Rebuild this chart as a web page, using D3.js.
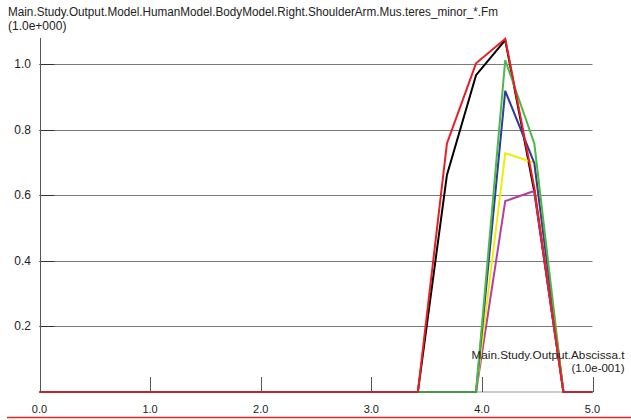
<!DOCTYPE html>
<html>
<head>
<meta charset="utf-8">
<script src="https://cdn.jsdelivr.net/npm/d3@7"></script>
<style>
  html, body { margin: 0; padding: 0; background: #fff; }
  svg { display: block; }
  text { font-family: "Liberation Sans Narrow", "Arial Narrow", "Liberation Sans", Arial, sans-serif; fill: #222; }
</style>
</head>
<body>
<svg id="chart" width="631" height="420"></svg>
<script>
// Sample times (units of 1.0e-001)
const time = [0.000, 0.263, 0.526, 0.789, 1.053, 1.316, 1.579, 1.842, 2.105, 2.368,
              2.632, 2.895, 3.158, 3.421, 3.684, 3.947, 4.211, 4.474, 4.737, 5.000];

// Muscle force per teres minor element (units of 1.0e+000)
const fmBlack   = [0,0,0,0,0,0,0,0,0,0,0,0,0,0, 0.662, 0.966, 1.073, 0.610, 0, 0];
const fmMagenta = [0,0,0,0,0,0,0,0,0,0,0,0,0,0, 0,     0,     0.582, 0.613, 0, 0];
const fmYellow  = [0,0,0,0,0,0,0,0,0,0,0,0,0,0, 0,     0,     0.728, 0.699, 0, 0];
const fmBlue    = [0,0,0,0,0,0,0,0,0,0,0,0,0,0, 0,     0,     0.918, 0.698, 0, 0];
const fmGreen   = [0,0,0,0,0,0,0,0,0,0,0,0,0,0, 0,     0,     1.012, 0.758, 0, 0];
const fmRed     = [0,0,0,0,0,0,0,0,0,0,0,0,0,0, 0.758, 1.002, 1.077, 0.623, 0, 0];

const seriesColors = ["#000000", "#b23fa8", "#f0ee00", "#2b3d9e", "#4db848", "#ec1c24"];
const seriesValues = [fmBlack, fmMagenta, fmYellow, fmBlue, fmGreen, fmRed];

const xTicks = [0, 1, 2, 3, 4, 5];
const xTickLabels = ["0.0", "1.0", "2.0", "3.0", "4.0", "5.0"];
const yTicks = [0.2, 0.4, 0.6, 0.8, 1.0];
const yTickLabels = ["0.2", "0.4", "0.6", "0.8", "1.0"];

const yTitle = "Main.Study.Output.Model.HumanModel.BodyModel.Right.ShoulderArm.Mus.teres_minor_*.Fm";
const yUnit = "(1.0e+000)";
const xTitle = "Main.Study.Output.Abscissa.t";
const xUnit = "(1.0e-001)";

const svg = d3.select("#chart");
const x = d3.scaleLinear().domain([0, 5]).range([39.5, 592.5]);
const y = d3.scaleLinear().domain([0, 1]).range([392, 64]);

// horizontal grid lines
svg.append("g").selectAll("line").data(yTicks).join("line")
  .attr("x1", x(0)).attr("x2", x(5))
  .attr("y1", d => Math.round(y(d)) + 0.5).attr("y2", d => Math.round(y(d)) + 0.5)
  .attr("stroke", "#7a7a7a").attr("stroke-width", 1);

// short dark tick marks on the left axis
svg.append("g").selectAll("line").data(yTicks).join("line")
  .attr("x1", x(0)).attr("x2", x(0) + 15)
  .attr("y1", d => Math.round(y(d)) + 0.5).attr("y2", d => Math.round(y(d)) + 0.5)
  .attr("stroke", "#333").attr("stroke-width", 1);

// y tick labels
svg.append("g").selectAll("text").data(yTicks).join("text")
  .attr("x", 31).attr("y", d => y(d) + 4)
  .attr("text-anchor", "end").attr("font-size", 12)
  .text((d, i) => yTickLabels[i]);

// left axis line
svg.append("line")
  .attr("x1", 40.5).attr("x2", 40.5).attr("y1", 38).attr("y2", y(0))
  .attr("stroke", "#555").attr("stroke-width", 1);

// data lines
const line = d3.line().x((d, i) => x(time[i])).y(d => y(d));
svg.append("g").selectAll("path").data(seriesValues).join("path")
  .attr("d", d => line(d))
  .attr("fill", "none")
  .attr("stroke", (d, i) => seriesColors[i])
  .attr("stroke-width", 2)
  .attr("stroke-linejoin", "miter");

// bottom axis line drawn over the data
svg.append("line")
  .attr("x1", x(0)).attr("x2", x(5)).attr("y1", y(0)).attr("y2", y(0))
  .attr("stroke", "#444").attr("stroke-opacity", 0.55).attr("stroke-width", 1);

// x ticks pointing upward
svg.append("g").selectAll("line").data(xTicks.slice(1)).join("line")
  .attr("x1", d => Math.round(x(d)) + 0.5).attr("x2", d => Math.round(x(d)) + 0.5)
  .attr("y1", 377).attr("y2", y(0))
  .attr("stroke", "#555").attr("stroke-width", 1);

// x tick labels
svg.append("g").selectAll("text").data(xTicks).join("text")
  .attr("x", d => x(d)).attr("y", 413)
  .attr("text-anchor", "middle").attr("font-size", 11)
  .text((d, i) => xTickLabels[i]);

// titles
svg.append("text").attr("x", 8).attr("y", 16).attr("font-size", 12)
  .attr("textLength", 490).attr("lengthAdjust", "spacingAndGlyphs").text(yTitle);
svg.append("text").attr("x", 8).attr("y", 30).attr("font-size", 12).text(yUnit);
svg.append("text").attr("x", 624.5).attr("y", 358.5).attr("text-anchor", "end").attr("font-size", 11.5)
  .attr("textLength", 153).attr("lengthAdjust", "spacingAndGlyphs").text(xTitle);
svg.append("text").attr("x", 624.5).attr("y", 372).attr("text-anchor", "end").attr("font-size", 11.5).text(xUnit);

// red rule along the bottom
svg.append("line")
  .attr("x1", 7).attr("x2", 631).attr("y1", 417.5).attr("y2", 417.5)
  .attr("stroke", "#ee2222").attr("stroke-width", 1.5);
</script>
</body>
</html>
